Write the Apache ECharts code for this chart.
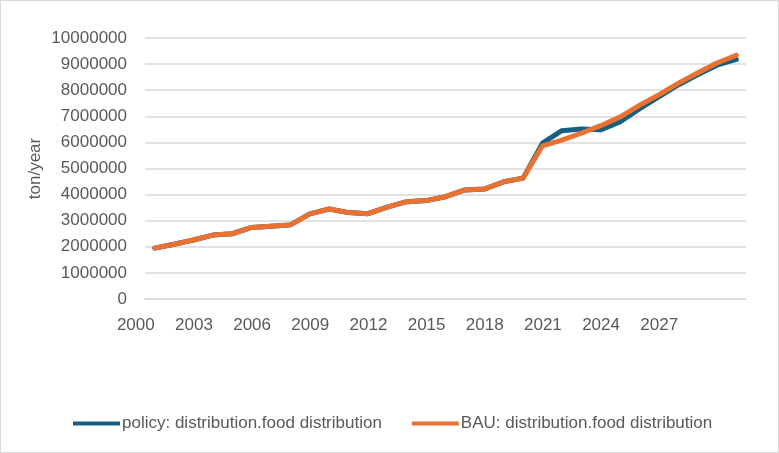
<!DOCTYPE html>
<html>
<head>
<meta charset="utf-8">
<script src="https://cdn.jsdelivr.net/npm/echarts@6/dist/echarts.min.js"></script>
<style>
html,body{margin:0;padding:0;background:#fff;}
#frame{position:absolute;left:0;top:0;width:779px;height:453px;box-sizing:border-box;border:1px solid #d9d9d9;}
#chart{position:absolute;left:0;top:0;width:779px;height:453px;}
</style>
</head>
<body>
<div id="frame"></div>
<div id="chart"></div>
<script>
const years = ['2000','2001','2002','2003','2004','2005','2006','2007','2008','2009','2010',
  '2011','2012','2013','2014','2015','2016','2017','2018','2019','2020',
  '2021','2022','2023','2024','2025','2026','2027','2028','2029','2030'];
const policyValues = [1950000,2100000,2260000,2450000,2500000,2740000,2790000,2840000,3260000,3450000,3310000,
  3270000,3520000,3730000,3770000,3920000,4180000,4210000,4490000,4630000,5970000,
  6450000,6510000,6480000,6780000,7280000,7740000,8200000,8590000,8960000,9180000];
const bauValues = [1950000,2100000,2260000,2450000,2500000,2740000,2790000,2840000,3260000,3450000,3310000,
  3270000,3520000,3730000,3770000,3920000,4180000,4210000,4490000,4630000,5870000,
  6090000,6350000,6640000,6970000,7420000,7820000,8260000,8660000,9040000,9340000];
const yTicks = {min:0, max:10000000, interval:1000000};
const policyName = 'policy: distribution.food distribution';
const bauName = 'BAU: distribution.food distribution';
const yName = 'ton/year';

const chart = echarts.init(document.getElementById('chart'), null, {renderer:'canvas'});
const txt = '#595959';
const ff = 'Liberation Sans, Arial, sans-serif';
chart.setOption({
  animation:false,
  grid:{left:145, right:33, top:38, bottom:154, containLabel:false},
  legend:{
    left:73, top:415, padding:0, itemWidth:47, itemHeight:4, itemGap:30, icon:'rect',
    textStyle:{color:txt, fontSize:17, fontFamily:ff, padding:[0,0,0,-3]},
    data:[policyName, bauName]
  },
  xAxis:{
    type:'category', data:years, boundaryGap:true,
    axisLine:{show:true, lineStyle:{color:'#d9d9d9', width:1.5}},
    axisTick:{show:false},
    axisLabel:{
      color:txt, fontSize:17, fontFamily:ff, align:'right', margin:18,
      interval:function(i){return i%3===0 && i<=27;}
    }
  },
  yAxis:{
    type:'value', min:yTicks.min, max:yTicks.max, interval:yTicks.interval,
    name:yName, nameLocation:'middle', nameGap:101, nameRotate:90, nameMoveOverlap:false,
    nameTextStyle:{color:txt, fontSize:17, fontFamily:ff},
    axisLine:{show:false}, axisTick:{show:false},
    axisLabel:{color:txt, fontSize:17, fontFamily:ff, margin:18, formatter:function(v){return String(v);}},
    splitLine:{lineStyle:{color:'#d9d9d9', width:1.5}}
  },
  series:[
    {name:policyName, type:'line', data:policyValues, symbol:'none', z:2,
     lineStyle:{color:'#156082', width:5, cap:'round', join:'round'}, itemStyle:{color:'#156082'}},
    {name:bauName, type:'line', data:bauValues, symbol:'none', z:3,
     lineStyle:{color:'#E97132', width:5, cap:'round', join:'round'}, itemStyle:{color:'#E97132'}}
  ]
});
</script>
</body>
</html>
